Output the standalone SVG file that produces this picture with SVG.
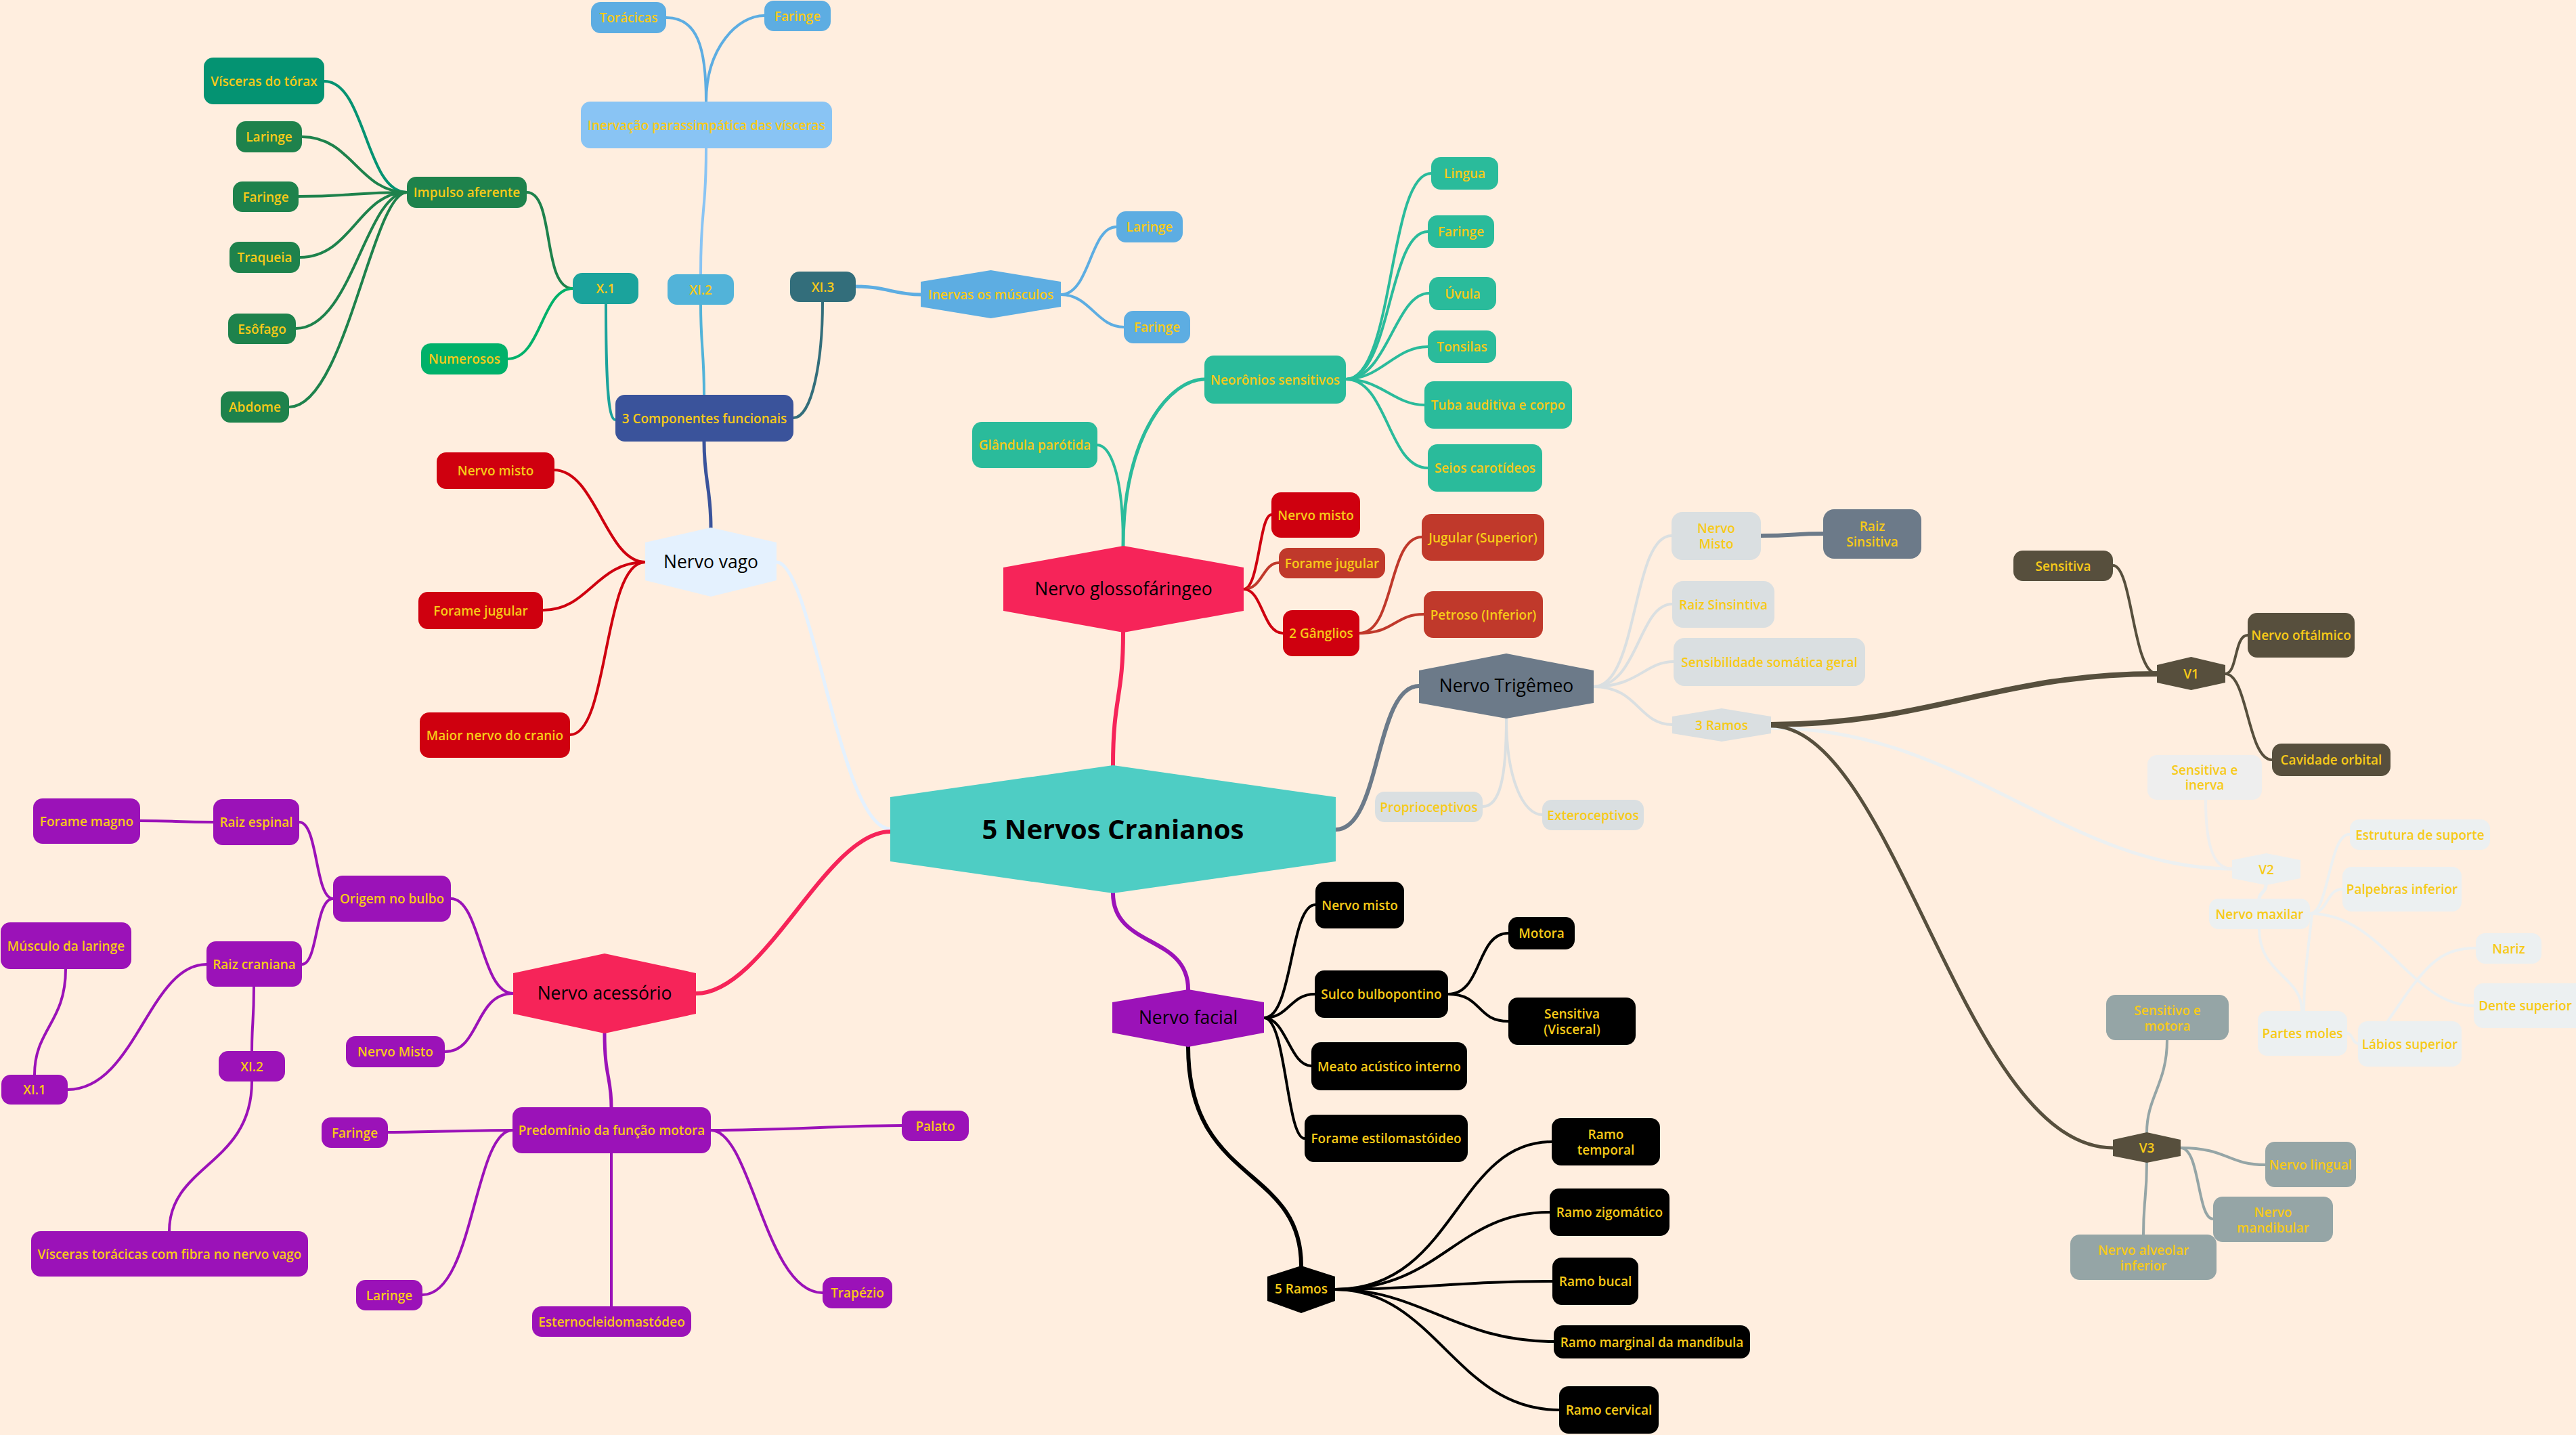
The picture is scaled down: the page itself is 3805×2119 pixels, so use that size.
<svg xmlns="http://www.w3.org/2000/svg" width="3805" height="2119" viewBox="0 0 3805 2119">
<style>
.t{font-family:"Open Sans","Noto Sans",sans-serif;font-weight:600;font-size:19px;fill:#F7CA18;text-anchor:middle}
.h{font-family:"Open Sans","Noto Sans",sans-serif;font-weight:400;font-size:26.5px;fill:#000;text-anchor:middle}
.m{font-family:"Open Sans","Noto Sans",sans-serif;font-weight:700;font-size:40px;fill:#000;text-anchor:middle}
#connectors path{fill:none;stroke-linecap:round}
.w6{stroke-width:6}.w5{stroke-width:5}.w4{stroke-width:4}.w8{stroke-width:8}
</style>
<rect x="0" y="0" width="3805" height="2119" fill="#FFEEDF"/>
<g id="connectors">
<path class="w5" stroke="#E4F1FE" d="M1147,830 C1200,830 1240,1224 1315,1224"/>
<path class="w6" stroke="#F62459" d="M1315,1228 C1220,1228 1130,1467 1028,1467"/>
<path class="w6" stroke="#F62459" d="M1644,1130 C1644,1030 1659,1030 1659,934"/>
<path class="w6" stroke="#6C7A89" d="M1973,1225 C2040,1225 2030,1013 2096,1013"/>
<path class="w6" stroke="#9B12B8" d="M1644,1319 C1644,1400 1755,1380 1755,1461"/>
<path class="w5" stroke="#3A539B" d="M1050,779 C1050,720 1040,710 1040,652"/>
<path class="w4" stroke="#CF000F" d="M953,830 C895,830 880,694 818,694"/>
<path class="w4" stroke="#CF000F" d="M953,830 C880,830 870,901 802,901"/>
<path class="w4" stroke="#CF000F" d="M953,830 C890,830 900,1085 842,1085"/>
<path class="w4" stroke="#1BA39C" d="M895,449 C895,560 898,620 909,620"/>
<path class="w4" stroke="#52B3D9" d="M1040,583 C1040,520 1035,510 1035,450"/>
<path class="w4" stroke="#336E7B" d="M1172,617 C1200,617 1215,530 1215,446"/>
<path class="w4" stroke="#1E824C" d="M846,426 C800,426 820,284 778,284"/>
<path class="w4" stroke="#00B16A" d="M846,426 C800,426 800,530 750,530"/>
<path class="w4" stroke="#049372" d="M601,284 C540,284 540,120 479,120"/>
<path class="w4" stroke="#1E824C" d="M601,284 C530,284 520,202 446,202"/>
<path class="w4" stroke="#1E824C" d="M601,284 C520,284 520,290 441,290"/>
<path class="w4" stroke="#1E824C" d="M601,284 C530,284 520,380 443,380"/>
<path class="w4" stroke="#1E824C" d="M601,284 C540,284 520,485 437,485"/>
<path class="w4" stroke="#1E824C" d="M601,284 C550,284 510,601 427,601"/>
<path class="w4" stroke="#89C4F4" d="M1035,405 C1035,300 1043,320 1043,219"/>
<path class="w4" stroke="#5DADE2" d="M1043,150 C1043,70 1030,26 984,26"/>
<path class="w4" stroke="#5DADE2" d="M1043,150 C1043,70 1090,23 1129,23"/>
<path class="w5" stroke="#5DADE2" d="M1264,423 C1310,423 1320,435 1360,435"/>
<path class="w4" stroke="#5DADE2" d="M1567,435 C1610,435 1610,335 1649,335"/>
<path class="w4" stroke="#5DADE2" d="M1567,435 C1610,435 1620,483 1660,483"/>
<path class="w4" stroke="#2ABB9B" d="M1659,806 C1659,700 1640,657 1620,657"/>
<path class="w5" stroke="#2ABB9B" d="M1659,806 C1659,640 1730,560 1779,560"/>
<path class="w4" stroke="#2ABB9B" d="M1988,560 C2060,560 2050,256 2114,256"/>
<path class="w4" stroke="#2ABB9B" d="M1988,560 C2055,560 2050,342 2109,342"/>
<path class="w4" stroke="#2ABB9B" d="M1988,560 C2050,560 2060,433 2111,433"/>
<path class="w4" stroke="#2ABB9B" d="M1988,560 C2040,560 2060,512 2109,512"/>
<path class="w4" stroke="#2ABB9B" d="M1988,560 C2040,560 2060,598 2104,598"/>
<path class="w4" stroke="#2ABB9B" d="M1988,560 C2050,560 2050,691 2109,691"/>
<path class="w4" stroke="#CF000F" d="M1837,870 C1860,870 1860,760 1878,760"/>
<path class="w4" stroke="#C0392B" d="M1837,870 C1865,870 1865,831 1889,831"/>
<path class="w4" stroke="#CF000F" d="M1837,870 C1865,870 1865,935 1895,935"/>
<path class="w4" stroke="#C0392B" d="M2008,935 C2060,935 2050,793 2100,793"/>
<path class="w4" stroke="#C0392B" d="M2008,935 C2060,935 2060,907 2103,907"/>
<path class="w4" stroke="#DADFE1" d="M2354,1014 C2420,1014 2410,791 2469,791"/>
<path class="w4" stroke="#DADFE1" d="M2354,1014 C2420,1014 2420,892 2470,892"/>
<path class="w4" stroke="#DADFE1" d="M2354,1014 C2420,1014 2430,977 2472,977"/>
<path class="w4" stroke="#DADFE1" d="M2354,1014 C2420,1014 2420,1070 2470,1070"/>
<path class="w4" stroke="#DADFE1" d="M2225,1061 C2225,1150 2215,1191 2190,1191"/>
<path class="w4" stroke="#DADFE1" d="M2225,1061 C2225,1150 2250,1203 2278,1203"/>
<path class="w6" stroke="#6C7A89" d="M2601,791 C2650,791 2650,788 2693,788"/>
<path class="w8" stroke="#574F3D" d="M2616,1070 C2850,1070 2950,995 3186,995"/>
<path class="w5" stroke="#ECF0F1" d="M2616,1075 C2900,1075 3050,1283 3297,1283"/>
<path class="w5" stroke="#574F3D" d="M2616,1072 C2800,1072 2900,1695 3121,1695"/>
<path class="w4" stroke="#574F3D" d="M3186,995 C3150,995 3150,835 3121,835"/>
<path class="w4" stroke="#574F3D" d="M3287,995 C3305,995 3300,938 3320,938"/>
<path class="w4" stroke="#574F3D" d="M3287,995 C3320,995 3320,1122 3356,1122"/>
<path class="w4" stroke="#EEEEEE" d="M3258,1181 C3258,1250 3270,1283 3297,1283"/>
<path class="w5" stroke="#ECF0F1" d="M3347,1307 C3347,1318 3337,1318 3337,1327"/>
<path class="w4" stroke="#ECF0F1" d="M3412,1349 C3440,1349 3440,1232 3470,1232"/>
<path class="w4" stroke="#ECF0F1" d="M3412,1349 C3440,1349 3435,1313 3460,1313"/>
<path class="w4" stroke="#ECF0F1" d="M3412,1349 C3520,1349 3560,1485 3654,1485"/>
<path class="w4" stroke="#ECF0F1" d="M3337,1371 C3337,1440 3400,1440 3400,1493"/>
<path class="w4" stroke="#ECF0F1" d="M3415,1349 C3410,1400 3403,1440 3403,1493"/>
<path class="w4" stroke="#ECF0F1" d="M3467,1526 C3475,1526 3475,1541 3483,1541"/>
<path class="w4" stroke="#ECF0F1" d="M3527,1508 C3580,1430 3600,1400 3657,1400"/>
<path class="w4" stroke="#95A5A6" d="M3201,1536 C3201,1600 3171,1620 3171,1672"/>
<path class="w4" stroke="#95A5A6" d="M3221,1695 C3290,1695 3290,1720 3346,1720"/>
<path class="w4" stroke="#95A5A6" d="M3221,1695 C3250,1695 3245,1800 3269,1800"/>
<path class="w4" stroke="#95A5A6" d="M3171,1717 C3171,1770 3166,1770 3166,1823"/>
<path class="w4" stroke="#000" d="M1867,1503 C1910,1503 1905,1336 1943,1336"/>
<path class="w4" stroke="#000" d="M1867,1503 C1905,1503 1905,1468 1942,1468"/>
<path class="w4" stroke="#000" d="M1867,1503 C1900,1503 1905,1574 1937,1574"/>
<path class="w4" stroke="#000" d="M1867,1503 C1900,1503 1900,1681 1927,1681"/>
<path class="w4" stroke="#000" d="M2139,1468 C2190,1468 2180,1378 2228,1378"/>
<path class="w4" stroke="#000" d="M2139,1468 C2190,1468 2180,1508 2228,1508"/>
<path class="w6" stroke="#000" d="M1755,1546 C1755,1750 1922,1720 1922,1869"/>
<path class="w4" stroke="#000" d="M1972,1904 C2150,1904 2150,1686 2292,1686"/>
<path class="w4" stroke="#000" d="M1972,1904 C2130,1904 2150,1790 2289,1790"/>
<path class="w4" stroke="#000" d="M1972,1904 C2100,1904 2150,1892 2293,1892"/>
<path class="w4" stroke="#000" d="M1972,1904 C2100,1904 2150,1981 2295,1981"/>
<path class="w4" stroke="#000" d="M1972,1904 C2120,1904 2150,2082 2303,2082"/>
<path class="w4" stroke="#9B12B8" d="M758,1467 C710,1467 710,1327 666,1327"/>
<path class="w4" stroke="#9B12B8" d="M758,1467 C700,1467 710,1553 657,1553"/>
<path class="w5" stroke="#9B12B8" d="M893,1526 C893,1590 903,1590 903,1635"/>
<path class="w4" stroke="#9B12B8" d="M492,1327 C465,1327 470,1214 442,1214"/>
<path class="w4" stroke="#9B12B8" d="M492,1327 C465,1327 470,1424 446,1424"/>
<path class="w4" stroke="#9B12B8" d="M315,1214 C260,1214 260,1212 207,1212"/>
<path class="w4" stroke="#9B12B8" d="M305,1424 C220,1424 200,1609 100,1609"/>
<path class="w4" stroke="#9B12B8" d="M375,1457 C375,1510 372,1510 372,1552"/>
<path class="w4" stroke="#9B12B8" d="M97,1431 C97,1510 51,1520 51,1587"/>
<path class="w4" stroke="#9B12B8" d="M372,1597 C372,1720 250,1720 250,1818"/>
<path class="w4" stroke="#9B12B8" d="M757,1669 C680,1669 640,1672 573,1672"/>
<path class="w4" stroke="#9B12B8" d="M757,1669 C700,1669 700,1912 624,1912"/>
<path class="w4" stroke="#9B12B8" d="M1050,1669 C1150,1669 1250,1662 1332,1662"/>
<path class="w4" stroke="#9B12B8" d="M1050,1669 C1110,1669 1130,1909 1215,1909"/>
<path class="w4" stroke="#9B12B8" d="M903,1703 C903,1800 903,1850 903,1929"/>
</g>

<g id="central"><polygon points="1315,1177 1644,1130 1973,1177 1973,1272 1644,1319 1315,1272" fill="#4ECDC4"/><text class="m" x="1644" y="1239">5 Nervos Cranianos</text></g>

<g id="vago"><polygon points="953,801 1050,779 1147,801 1147,857 1050,881 953,857" fill="#E4F1FE"/><text class="h" x="1050" y="839">Nervo vago</text></g>
<g id="vago-misto"><rect x="645" y="668" width="174" height="54" rx="14" fill="#CF000F"/><text class="t" x="732" y="702">Nervo misto</text></g>
<g id="vago-forame"><rect x="618" y="874" width="184" height="55" rx="14" fill="#CF000F"/><text class="t" x="710" y="908.5">Forame jugular</text></g>
<g id="vago-maior"><rect x="620" y="1052" width="222" height="67" rx="14" fill="#CF000F"/><text class="t" x="731" y="1092.5">Maior nervo do cranio</text></g>
<g id="componentes"><rect x="909" y="583" width="263" height="69" rx="14" fill="#3A539B"/><text class="t" x="1040.5" y="624.5">3 Componentes funcionais</text></g>
<g id="x1"><rect x="846" y="403" width="97" height="46" rx="14" fill="#1BA39C"/><text class="t" x="894.5" y="433">X.1</text></g>
<g id="xi2"><rect x="986" y="405" width="98" height="45" rx="14" fill="#52B3D9"/><text class="t" x="1035" y="434.5">XI.2</text></g>
<g id="xi3"><rect x="1167" y="401" width="97" height="45" rx="14" fill="#336E7B"/><text class="t" x="1215.5" y="430.5">XI.3</text></g>
<g id="impulso"><rect x="601" y="261" width="177" height="46" rx="14" fill="#1E824C"/><text class="t" x="689.5" y="291">Impulso aferente</text></g>
<g id="numerosos"><rect x="622" y="507" width="128" height="46" rx="14" fill="#00B16A"/><text class="t" x="686" y="537">Numerosos</text></g>
<g id="visceras-torax"><rect x="301" y="85" width="178" height="69" rx="14" fill="#049372"/><text class="t" x="390" y="126.5">Vísceras do tórax</text></g>
<g id="imp-laringe"><rect x="349" y="179" width="97" height="46" rx="14" fill="#1E824C"/><text class="t" x="397.5" y="209">Laringe</text></g>
<g id="imp-faringe"><rect x="344" y="268" width="97" height="45" rx="14" fill="#1E824C"/><text class="t" x="392.5" y="297.5">Faringe</text></g>
<g id="imp-traqueia"><rect x="339" y="357" width="104" height="46" rx="14" fill="#1E824C"/><text class="t" x="391" y="387">Traqueia</text></g>
<g id="imp-esofago"><rect x="337" y="463" width="100" height="45" rx="14" fill="#1E824C"/><text class="t" x="387" y="492.5">Esôfago</text></g>
<g id="imp-abdome"><rect x="326" y="578" width="101" height="46" rx="14" fill="#1E824C"/><text class="t" x="376.5" y="608">Abdome</text></g>
<g id="inervacao"><rect x="858" y="150" width="371" height="69" rx="14" fill="#89C4F4"/><text class="t" x="1043.5" y="191.5">Inervação parassimpática das vísceras</text></g>
<g id="toracicas"><rect x="873" y="3" width="111" height="46" rx="14" fill="#5DADE2"/><text class="t" x="928.5" y="33">Torácicas</text></g>
<g id="inerv-faringe"><rect x="1129" y="1" width="98" height="45" rx="14" fill="#5DADE2"/><text class="t" x="1178" y="30.5">Faringe</text></g>
<g id="inervas"><polygon points="1360,416 1463.5,399 1567,416 1567,453 1463.5,470 1360,453" fill="#5DADE2"/><text class="t" x="1463.5" y="441.5">Inervas os músculos</text></g>
<g id="musc-laringe"><rect x="1649" y="312" width="98" height="46" rx="14" fill="#5DADE2"/><text class="t" x="1698" y="342">Laringe</text></g>
<g id="musc-faringe"><rect x="1660" y="459" width="98" height="48" rx="14" fill="#5DADE2"/><text class="t" x="1709" y="490">Faringe</text></g>

<g id="glosso"><polygon points="1482,838 1659.5,806 1837,838 1837,902 1659.5,934 1482,902" fill="#F62459"/><text class="h" x="1659.5" y="879">Nervo glossofáringeo</text></g>
<g id="glandula"><rect x="1436" y="623" width="185" height="68" rx="14" fill="#2ABB9B"/><text class="t" x="1528.5" y="664">Glândula parótida</text></g>
<g id="neoronios"><rect x="1779" y="525" width="209" height="71" rx="14" fill="#2ABB9B"/><text class="t" x="1883.5" y="567.5">Neorônios sensitivos</text></g>
<g id="lingua"><rect x="2114" y="232" width="99" height="48" rx="14" fill="#2ABB9B"/><text class="t" x="2163.5" y="263">Lingua</text></g>
<g id="neo-faringe"><rect x="2109" y="318" width="98" height="48" rx="14" fill="#2ABB9B"/><text class="t" x="2158" y="349">Faringe</text></g>
<g id="uvula"><rect x="2111" y="409" width="99" height="49" rx="14" fill="#2ABB9B"/><text class="t" x="2160.5" y="440.5">Úvula</text></g>
<g id="tonsilas"><rect x="2109" y="488" width="101" height="48" rx="14" fill="#2ABB9B"/><text class="t" x="2159.5" y="519">Tonsilas</text></g>
<g id="tuba"><rect x="2104" y="563" width="218" height="70" rx="14" fill="#2ABB9B"/><text class="t" x="2213" y="605">Tuba auditiva e corpo</text></g>
<g id="seios"><rect x="2109" y="656" width="169" height="70" rx="14" fill="#2ABB9B"/><text class="t" x="2193.5" y="698">Seios carotídeos</text></g>
<g id="glosso-misto"><rect x="1878" y="727" width="131" height="67" rx="14" fill="#CF000F"/><text class="t" x="1943.5" y="767.5">Nervo misto</text></g>
<g id="glosso-forame"><rect x="1889" y="809" width="157" height="45" rx="14" fill="#C0392B"/><text class="t" x="1967.5" y="838.5">Forame jugular</text></g>
<g id="ganglios"><rect x="1895" y="901" width="113" height="68" rx="14" fill="#CF000F"/><text class="t" x="1951.5" y="942">2 Gânglios</text></g>
<g id="jugular-sup"><rect x="2100" y="759" width="181" height="69" rx="14" fill="#C0392B"/><text class="t" x="2190.5" y="800.5">Jugular (Superior)</text></g>
<g id="petroso"><rect x="2103" y="873" width="176" height="69" rx="14" fill="#C0392B"/><text class="t" x="2191" y="914.5">Petroso (Inferior)</text></g>

<g id="trigemeo"><polygon points="2096,990 2225,965 2354,990 2354,1038 2225,1061 2096,1038" fill="#6C7A89"/><text class="h" x="2225" y="1022">Nervo Trigêmeo</text></g>
<g id="trig-misto"><rect x="2469" y="756" width="132" height="71" rx="16" fill="#DADFE1"/><text class="t" x="2535" y="787">Nervo</text><text class="t" x="2535" y="810">Misto</text></g>
<g id="raiz-sinsitiva"><rect x="2693" y="752" width="145" height="73" rx="16" fill="#6C7A89"/><text class="t" x="2765.5" y="784">Raiz</text><text class="t" x="2765.5" y="807">Sinsitiva</text></g>
<g id="raiz-sinsintiva"><rect x="2470" y="858" width="151" height="69" rx="16" fill="#DADFE1"/><text class="t" x="2545.5" y="899.5">Raiz Sinsintiva</text></g>
<g id="sensibilidade"><rect x="2472" y="942" width="283" height="71" rx="16" fill="#DADFE1"/><text class="t" x="2613.5" y="984.5">Sensibilidade somática geral</text></g>
<g id="ramos3"><polygon points="2470,1058 2543,1046 2616,1058 2616,1083 2543,1095 2470,1083" fill="#DADFE1"/><text class="t" x="2543" y="1077.5">3 Ramos</text></g>
<g id="proprio"><rect x="2031" y="1169" width="159" height="45" rx="14" fill="#DADFE1"/><text class="t" x="2110.5" y="1198.5">Proprioceptivos</text></g>
<g id="extero"><rect x="2278" y="1181" width="150" height="45" rx="14" fill="#DADFE1"/><text class="t" x="2353" y="1210.5">Exteroceptivos</text></g>
<g id="v1"><polygon points="3186,982 3236.5,970 3287,982 3287,1008 3236.5,1019 3186,1008" fill="#574F3D"/><text class="t" x="3236.5" y="1001.5">V1</text></g>
<g id="sensitiva"><rect x="2974" y="813" width="147" height="45" rx="14" fill="#574F3D"/><text class="t" x="3047.5" y="842.5">Sensitiva</text></g>
<g id="oftalmico"><rect x="3320" y="905" width="158" height="66" rx="14" fill="#574F3D"/><text class="t" x="3399" y="945">Nervo oftálmico</text></g>
<g id="cavidade"><rect x="3356" y="1098" width="175" height="48" rx="14" fill="#574F3D"/><text class="t" x="3443.5" y="1129">Cavidade orbital</text></g>
<g id="v2"><polygon points="3297,1270 3347.5,1260 3398,1270 3398,1297 3347.5,1307 3297,1297" fill="#ECF0F1"/><text class="t" x="3347.5" y="1290.5">V2</text></g>
<g id="sens-inerva"><rect x="3172" y="1115" width="169" height="66" rx="14" fill="#EEEEEE"/><text class="t" x="3256.5" y="1144">Sensitiva e</text><text class="t" x="3256.5" y="1166">inerva</text></g>
<g id="maxilar"><rect x="3263" y="1327" width="149" height="45" rx="14" fill="#ECF0F1"/><text class="t" x="3337.5" y="1356.5">Nervo maxilar</text></g>
<g id="estrutura"><rect x="3471" y="1210" width="207" height="45" rx="14" fill="#ECF0F1"/><text class="t" x="3574.5" y="1239.5">Estrutura de suporte</text></g>
<g id="palpebras"><rect x="3460" y="1280" width="176" height="66" rx="14" fill="#ECF0F1"/><text class="t" x="3548" y="1320">Palpebras inferior</text></g>
<g id="nariz"><rect x="3657" y="1378" width="97" height="45" rx="14" fill="#ECF0F1"/><text class="t" x="3705.5" y="1407.5">Nariz</text></g>
<g id="dente"><rect x="3654" y="1452" width="165" height="66" rx="14" fill="#ECF0F1"/><text class="t" x="3730" y="1492">Dente superior</text></g>
<g id="partes-moles"><rect x="3335" y="1493" width="132" height="66" rx="14" fill="#ECF0F1"/><text class="t" x="3401" y="1533">Partes moles</text></g>
<g id="labios"><rect x="3483" y="1508" width="153" height="67" rx="14" fill="#ECF0F1"/><text class="t" x="3559.5" y="1548.5">Lábios superior</text></g>
<g id="v3"><polygon points="3121,1683 3171,1672 3221,1683 3221,1707 3171,1717 3121,1707" fill="#574F3D"/><text class="t" x="3171" y="1701.5">V3</text></g>
<g id="sens-motora"><rect x="3111" y="1469" width="181" height="67" rx="14" fill="#95A5A6"/><text class="t" x="3201.5" y="1498.5">Sensitivo e</text><text class="t" x="3201.5" y="1521.5">motora</text></g>
<g id="lingual"><rect x="3346" y="1686" width="134" height="67" rx="14" fill="#95A5A6"/><text class="t" x="3413" y="1726.5">Nervo lingual</text></g>
<g id="mandibular"><rect x="3269" y="1767" width="177" height="67" rx="14" fill="#95A5A6"/><text class="t" x="3357.5" y="1796.5">Nervo</text><text class="t" x="3357.5" y="1819.5">mandibular</text></g>
<g id="alveolar"><rect x="3058" y="1823" width="216" height="67" rx="14" fill="#95A5A6"/><text class="t" x="3166" y="1852.5">Nervo alveolar</text><text class="t" x="3166" y="1875.5">inferior</text></g>

<g id="facial"><polygon points="1643,1480 1755,1461 1867,1480 1867,1525 1755,1546 1643,1525" fill="#9B12B8"/><text class="h" x="1755" y="1512">Nervo facial</text></g>
<g id="fac-misto"><rect x="1943" y="1302" width="131" height="69" rx="14" fill="#000"/><text class="t" x="2008.5" y="1343.5">Nervo misto</text></g>
<g id="sulco"><rect x="1942" y="1433" width="197" height="70" rx="14" fill="#000"/><text class="t" x="2040.5" y="1475">Sulco bulbopontino</text></g>
<g id="motora"><rect x="2228" y="1354" width="98" height="48" rx="14" fill="#000"/><text class="t" x="2277" y="1385">Motora</text></g>
<g id="sens-visceral"><rect x="2228" y="1473" width="188" height="70" rx="14" fill="#000"/><text class="t" x="2322" y="1503.5">Sensitiva</text><text class="t" x="2322" y="1526.5">(Visceral)</text></g>
<g id="meato"><rect x="1937" y="1539" width="230" height="71" rx="14" fill="#000"/><text class="t" x="2052" y="1581.5">Meato acústico interno</text></g>
<g id="forame-estilo"><rect x="1927" y="1646" width="241" height="70" rx="14" fill="#000"/><text class="t" x="2047.5" y="1688">Forame estilomastóideo</text></g>
<g id="ramos5"><polygon points="1872,1885 1922,1869 1972,1885 1972,1921 1922,1939 1872,1921" fill="#000"/><text class="t" x="1922" y="1910">5 Ramos</text></g>
<g id="temporal"><rect x="2292" y="1651" width="160" height="70" rx="14" fill="#000"/><text class="t" x="2372" y="1681.5">Ramo</text><text class="t" x="2372" y="1704.5">temporal</text></g>
<g id="zigomatico"><rect x="2289" y="1755" width="177" height="70" rx="14" fill="#000"/><text class="t" x="2377.5" y="1797">Ramo zigomático</text></g>
<g id="bucal"><rect x="2293" y="1857" width="127" height="70" rx="14" fill="#000"/><text class="t" x="2356.5" y="1899">Ramo bucal</text></g>
<g id="marginal"><rect x="2295" y="1957" width="290" height="49" rx="14" fill="#000"/><text class="t" x="2440" y="1988.5">Ramo marginal da mandíbula</text></g>
<g id="cervical"><rect x="2303" y="2047" width="147" height="70" rx="14" fill="#000"/><text class="t" x="2376.5" y="2089">Ramo cervical</text></g>

<g id="acessorio"><polygon points="758,1437 893,1408 1028,1437 1028,1497 893,1526 758,1497" fill="#F62459"/><text class="h" x="893" y="1476">Nervo acessório</text></g>
<g id="forame-magno"><rect x="49" y="1179" width="158" height="67" rx="14" fill="#9B12B8"/><text class="t" x="128" y="1219.5">Forame magno</text></g>
<g id="raiz-espinal"><rect x="315" y="1180" width="127" height="68" rx="14" fill="#9B12B8"/><text class="t" x="378.5" y="1221">Raiz espinal</text></g>
<g id="origem"><rect x="492" y="1293" width="174" height="68" rx="14" fill="#9B12B8"/><text class="t" x="579" y="1334">Origem no bulbo</text></g>
<g id="musculo-laringe"><rect x="1" y="1362" width="193" height="69" rx="14" fill="#9B12B8"/><text class="t" x="97.5" y="1403.5">Músculo da laringe</text></g>
<g id="raiz-craniana"><rect x="305" y="1390" width="141" height="67" rx="14" fill="#9B12B8"/><text class="t" x="375.5" y="1430.5">Raiz craniana</text></g>
<g id="ac-misto"><rect x="511" y="1530" width="146" height="46" rx="14" fill="#9B12B8"/><text class="t" x="584" y="1560">Nervo Misto</text></g>
<g id="ac-xi1"><rect x="2" y="1587" width="98" height="44" rx="14" fill="#9B12B8"/><text class="t" x="51" y="1616">XI.1</text></g>
<g id="ac-xi2"><rect x="323" y="1552" width="98" height="45" rx="14" fill="#9B12B8"/><text class="t" x="372" y="1581.5">XI.2</text></g>
<g id="visc-toracicas"><rect x="46" y="1818" width="409" height="67" rx="14" fill="#9B12B8"/><text class="t" x="250.5" y="1858.5">Vísceras torácicas com fibra no nervo vago</text></g>
<g id="predominio"><rect x="757" y="1635" width="293" height="68" rx="14" fill="#9B12B8"/><text class="t" x="903.5" y="1676">Predomínio da função motora</text></g>
<g id="ac-faringe"><rect x="475" y="1650" width="98" height="45" rx="14" fill="#9B12B8"/><text class="t" x="524" y="1679.5">Faringe</text></g>
<g id="palato"><rect x="1332" y="1640" width="99" height="45" rx="14" fill="#9B12B8"/><text class="t" x="1381.5" y="1669.5">Palato</text></g>
<g id="ac-laringe"><rect x="526" y="1890" width="98" height="45" rx="14" fill="#9B12B8"/><text class="t" x="575" y="1919.5">Laringe</text></g>
<g id="esterno"><rect x="786" y="1929" width="235" height="45" rx="14" fill="#9B12B8"/><text class="t" x="903.5" y="1958.5">Esternocleidomastódeo</text></g>
<g id="trapezio"><rect x="1215" y="1886" width="103" height="46" rx="14" fill="#9B12B8"/><text class="t" x="1266.5" y="1916">Trapézio</text></g>
</svg>
